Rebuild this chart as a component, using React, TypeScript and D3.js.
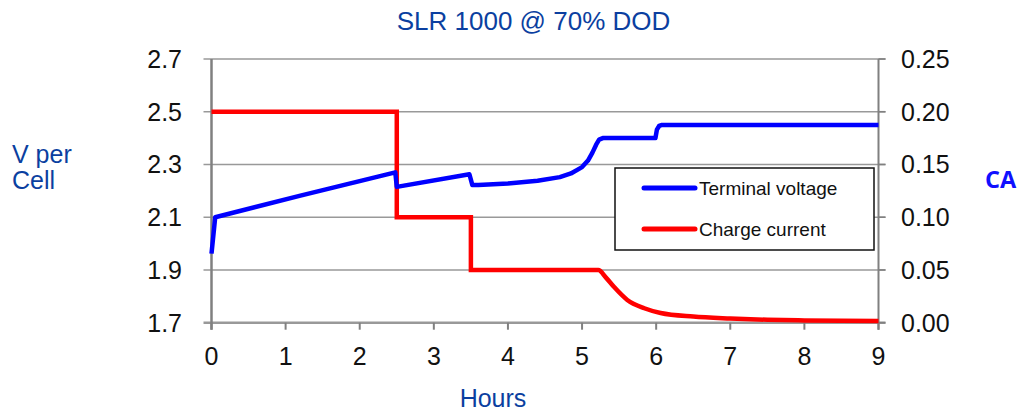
import React from "react";
import * as d3 from "d3";

const leftTicks = [1.7, 1.9, 2.1, 2.3, 2.5, 2.7];
const rightTicks = [0, 0.05, 0.1, 0.15, 0.2, 0.25];
const hourTicks = [0, 1, 2, 3, 4, 5, 6, 7, 8, 9];

const voltageHours = [0, 0.05, 1.2, 2.48, 2.5, 3.48, 3.52, 3.6, 4, 4.4, 4.7, 4.85, 5.0, 5.08, 5.14, 5.19, 5.23, 5.28, 5.99, 6.01, 6.04, 6.08, 9];
const voltageValues = [1.962, 2.1, 2.182, 2.27, 2.215, 2.263, 2.222, 2.222, 2.228, 2.238, 2.252, 2.266, 2.29, 2.315, 2.345, 2.375, 2.394, 2.4, 2.4, 2.432, 2.446, 2.45, 2.45];

const currentHours = [0, 2.5, 2.5, 3.5, 3.5, 5.22, 5.32, 5.43, 5.61, 5.84, 6.06, 6.5, 7, 7.5, 8, 8.5, 9];
const currentValues = [0.2, 0.2, 0.1, 0.1, 0.05, 0.05, 0.043, 0.034, 0.0216, 0.0137, 0.0092, 0.0058, 0.004, 0.0028, 0.0022, 0.0018, 0.0015];

const legendLabels = ["Terminal voltage", "Charge current"];
const seriesColors = ["#0000ff", "#ff0000"];

const FONT = "'Liberation Sans', Arial, sans-serif";

export default function App() {
  const x = d3.scaleLinear().domain([0, 9]).range([211.5, 878.5]);
  const yV = d3.scaleLinear().domain([1.7, 2.7]).range([322.7, 59]);
  const yI = d3.scaleLinear().domain([0, 0.25]).range([322.7, 59]);

  const vLine = d3
    .line<number>()
    .x((_, i) => x(voltageHours[i]))
    .y((d) => yV(d));
  const iLine = d3
    .line<number>()
    .x((_, i) => x(currentHours[i]))
    .y((d) => yI(d))
    .curve(d3.curveMonotoneX);

  const left = x(0);
  const right = x(9);
  const bottom = yV(1.7);
  const top = yV(2.7);

  return (
    <svg
      width={1017}
      height={413}
      style={{ position: "absolute", left: 0, top: 0, background: "#fff" }}
      fontFamily={FONT}
    >
      <rect x={0} y={0} width={1017} height={413} fill="#fff" />
      {/* title */}
      <text x={533.5} y={30} textAnchor="middle" fontSize={26} fill="#0b3fa0">
        SLR 1000 @ 70% DOD
      </text>

      {/* gridlines */}
      {leftTicks.map((t) => (
        <line
          key={"g" + t}
          x1={left - 8}
          x2={right + 7}
          y1={yV(t)}
          y2={yV(t)}
          stroke="#999"
          strokeWidth={t === 1.7 ? 2.5 : 1.6}
        />
      ))}
      {/* left axis */}
      <line x1={left} x2={left} y1={top} y2={bottom + 7} stroke="#808080" strokeWidth={2.5} />
      {/* right axis */}
      <line x1={right} x2={right} y1={top} y2={bottom + 7} stroke="#808080" strokeWidth={2} />
      {rightTicks.map((t) => (
        <line key={"rt" + t} x1={right} x2={right + 7} y1={yI(t)} y2={yI(t)} stroke="#808080" strokeWidth={1.6} />
      ))}
      {hourTicks.map((h) => (
        <line key={"bt" + h} x1={x(h)} x2={x(h)} y1={bottom} y2={bottom + 7} stroke="#808080" strokeWidth={2} />
      ))}

      {/* tick labels */}
      {leftTicks.map((t) => (
        <text key={"lt" + t} x={182} y={yV(t)} dy="0.36em" textAnchor="end" fontSize={25} fill="#111">
          {t.toFixed(1)}
        </text>
      ))}
      {rightTicks.map((t) => (
        <text key={"rl" + t} x={901} y={yI(t)} dy="0.36em" textAnchor="start" fontSize={25} fill="#111">
          {t.toFixed(2)}
        </text>
      ))}
      {hourTicks.map((h) => (
        <text key={"bl" + h} x={x(h)} y={365} textAnchor="middle" fontSize={25} fill="#111">
          {h}
        </text>
      ))}

      {/* axis titles */}
      <text x={12} y={163} fontSize={25} fill="#0b3fa0">V per</text>
      <text x={12} y={189} fontSize={25} fill="#0b3fa0">Cell</text>
      <text x={493} y={407} textAnchor="middle" fontSize={25} fill="#0b3fa0">Hours</text>
      <text x={985} y={188} fontSize={23.5} fontWeight="bold" fill="#1010ff" fontFamily="'Open Sans', 'Liberation Sans', sans-serif">CA</text>

      {/* series */}
      <path d={iLine(currentValues) || ""} fill="none" stroke={seriesColors[1]} strokeWidth={4.5} strokeLinejoin="miter" />
      <path d={vLine(voltageValues) || ""} fill="none" stroke={seriesColors[0]} strokeWidth={4.5} strokeLinejoin="round" />

      {/* legend */}
      <rect x={615} y={168} width={259} height={82} fill="#fff" stroke="#111" strokeWidth={1.5} />
      {legendLabels.map((l, i) => (
        <g key={l}>
          <line
            x1={644}
            x2={695}
            y1={188 + i * 41}
            y2={188 + i * 41}
            stroke={seriesColors[i]}
            strokeWidth={5}
            strokeLinecap="round"
          />
          <text x={699} y={194.5 + i * 41} fontSize={19} fill="#111">
            {l}
          </text>
        </g>
      ))}
    </svg>
  );
}
